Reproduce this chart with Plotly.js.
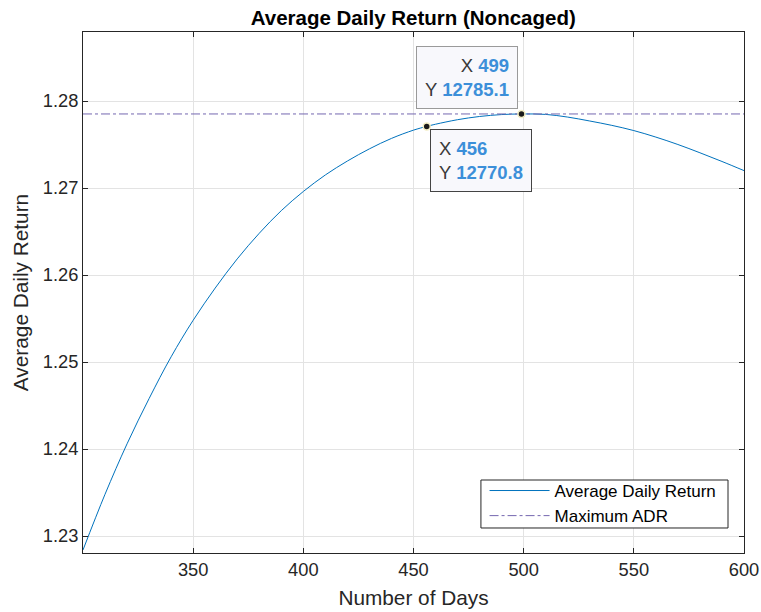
<!DOCTYPE html>
<html>
<head>
<meta charset="utf-8">
<script src="https://cdn.plot.ly/plotly-3.0.1.min.js"></script>
<style>html,body{margin:0;padding:0;background:#fff;}#chart{width:761px;height:612px;}</style>
</head>
<body>
<div id="chart"></div>
<script>
// Number of days
const days = [300, 310, 320, 330, 340, 350, 360, 370, 380, 390, 400, 410, 420, 430, 440, 450, 456, 460, 470, 480, 490, 499, 510, 520, 530, 540, 550, 560, 570, 580, 590, 600];
// Average daily return (raw units, axis shown scaled by 1e4)
const adr = [12284, 12348, 12406, 12458, 12506, 12548, 12585, 12618.5, 12648, 12674, 12696, 12715, 12731, 12745, 12757, 12766.5, 12770.8, 12773.3, 12778.5, 12782.2, 12784.4, 12785.1, 12784.6, 12781.5, 12777, 12772, 12766, 12758.5, 12750, 12740.5, 12730.5, 12720];
// Data tips
const tipX = [499, 456];
const tipY = [12785.1, 12770.8];
const maxADR = 12785.1;
// Axis ticks
const xTicks = [350, 400, 450, 500, 550, 600];
const yTickVals = [12300, 12400, 12500, 12600, 12700, 12800];
const yTickText = ['1.23', '1.24', '1.25', '1.26', '1.27', '1.28'];

const FONT = '"Liberation Sans", Arial, Helvetica, sans-serif';
const traces = [
  {x: days, y: adr, type: 'scatter', mode: 'lines', name: 'Average Daily Return',
   line: {color: '#0072BD', width: 1, shape: 'spline', smoothing: 1}},
  {x: [days[0], days[days.length-1]], y: [maxADR, maxADR], type: 'scatter', mode: 'lines', name: 'Maximum ADR',
   line: {color: '#7467b0', width: 1, dash: 'dashdot'}},
  {x: tipX, y: tipY, type: 'scatter', mode: 'markers', showlegend: false,
   marker: {color: '#1a1a1a', size: 7, line: {color: '#f3eec4', width: 1.5}}}
];

function tipText(x, y) {
  return 'X <span style="color:#3c8fd9"><b>' + x + '</b></span><br>Y <span style="color:#3c8fd9"><b>' + y.toFixed(1) + '</b></span>';
}

const layout = {
  width: 761, height: 612,
  margin: {l: 83, r: 17, t: 32, b: 59},
  paper_bgcolor: '#ffffff', plot_bgcolor: '#ffffff',
  font: {family: FONT, size: 18, color: '#262626'},
  title: {text: '<b>Average Daily Return (Noncaged)</b>', font: {family: FONT, size: 20.5, color: '#000'}, x: 0.543, xanchor: 'center', y: 0.971, yanchor: 'middle'},
  xaxis: {
    range: [300, 600], tickvals: xTicks, ticks: 'inside', ticklen: 5, tickcolor: '#262626',
    showline: true, linecolor: '#262626', linewidth: 1, mirror: 'ticks',
    showgrid: true, gridcolor: '#e3e3e3', zeroline: false,
    tickfont: {size: 18.3, color: '#262626'},
    title: {text: 'Number of Days', font: {size: 20.8, color: '#262626'}, standoff: 11}
  },
  yaxis: {
    range: [12280.5, 12879.3], tickvals: yTickVals, ticktext: yTickText, ticks: 'inside', ticklen: 5, tickcolor: '#262626',
    showline: true, linecolor: '#262626', linewidth: 1, mirror: 'ticks',
    showgrid: true, gridcolor: '#e3e3e3', zeroline: false,
    tickfont: {size: 18.3, color: '#262626'},
    title: {text: 'Average Daily Return', font: {size: 20.8, color: '#262626'}, standoff: 8}
  },
  legend: {x: 0.6075, xanchor: 'left', y: 0.1536, yanchor: 'top',
    bgcolor: 'rgba(0,0,0,0)', borderwidth: 0, itemwidth: 60,
    font: {size: 17, color: '#000'}, tracegroupgap: 0},
  showlegend: true,
  shapes: [
    {type: 'rect', xref: 'paper', yref: 'paper', x0: 0.602, x1: 0.9758, y0: 0.048, y1: 0.1401,
     fillcolor: '#ffffff', line: {color: '#262626', width: 1}, layer: 'above'}
  ],
  annotations: [
    {x: tipX[0], y: tipY[0], xref: 'x', yref: 'y', showarrow: false, xanchor: 'right', yanchor: 'bottom',
     xshift: -3, yshift: 5, text: tipText(tipX[0], tipY[0]), align: 'right',
     font: {size: 18.5, color: '#3a3a3a'}, bgcolor: '#f8f8fc', bordercolor: '#9a9a9a', borderwidth: 1, borderpad: 8},
    {x: tipX[1], y: tipY[1], xref: 'x', yref: 'y', showarrow: false, xanchor: 'left', yanchor: 'top',
     xshift: 3, yshift: -3, text: tipText(tipX[1], tipY[1]), align: 'left',
     font: {size: 18.5, color: '#3a3a3a'}, bgcolor: '#f8f8fc', bordercolor: '#444444', borderwidth: 1, borderpad: 8}
  ]
};

Plotly.newPlot('chart', traces, layout, {staticPlot: true, displayModeBar: false});
</script>
</body>
</html>
